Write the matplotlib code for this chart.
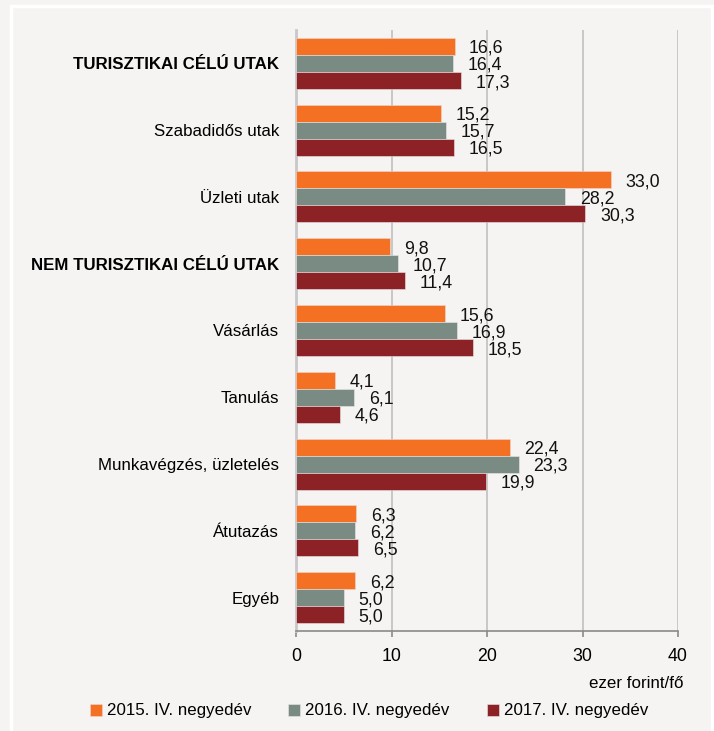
import numpy as np
import matplotlib
matplotlib.use('Agg')
import matplotlib.pyplot as plt
from matplotlib.patches import Rectangle

plt.rcParams['font.family'] = ['Liberation Sans Narrow', 'Liberation Sans', 'DejaVu Sans']

# — DATA —
categories = ['TURISZTIKAI CÉLÚ UTAK', 'Szabadidős utak', 'Üzleti utak',
              'NEM TURISZTIKAI CÉLÚ UTAK', 'Vásárlás', 'Tanulás',
              'Munkavégzés, üzletelés', 'Átutazás', 'Egyéb']
bold_cats = ['TURISZTIKAI CÉLÚ UTAK', 'NEM TURISZTIKAI CÉLÚ UTAK']
series_names = ['2015. IV. negyedév', '2016. IV. negyedév', '2017. IV. negyedév']
v2015 = [16.6, 15.2, 33.0, 9.8, 15.6, 4.1, 22.4, 6.3, 6.2]
v2016 = [16.4, 15.7, 28.2, 10.7, 16.9, 6.1, 23.3, 6.2, 5.0]
v2017 = [17.3, 16.5, 30.3, 11.4, 18.5, 4.6, 19.9, 6.5, 5.0]
colors = ['#F47022', '#7A8B83', '#8C2226']
BG = '#F5F4F2'
FS = 12.2

fig = plt.figure(figsize=(7.14, 7.31), dpi=100, facecolor=BG)
ax = fig.add_axes([296/714, 1 - 631/731, (678 - 296)/714, (631 - 30)/731])
ax.set_facecolor(BG)

# white frame around the chart area
fig.patches.append(Rectangle((11.5/714, -0.05), 700/714, 1.05 - 6/731,
                             transform=fig.transFigure, fill=False,
                             edgecolor='white', lw=2.5))

n = len(categories)
y = np.arange(n)
bh = 0.255
for i, (vals, col, name) in enumerate(zip([v2015, v2016, v2017], colors, series_names)):
    pos = y + (i - 1) * bh
    ax.barh(pos, vals, height=bh, color=col, edgecolor='#f0d8d0' if i == 0 else '#e8e8e8',
            lw=0.4, label=name, zorder=3)
    for p, v in zip(pos, vals):
        ax.annotate(f'{v:.1f}'.replace('.', ','), (v, p), xytext=(10.5, -1.5),
                    textcoords='offset points', va='center', ha='left',
                    fontsize=FS + 0.6, color='#111111')

ax.set_ylim(n - 0.5, -0.5)
ax.set_xlim(0, 40)
ax.set_xticks([0, 10, 20, 30, 40])
ax.tick_params(axis='x', labelsize=FS + 0.6, length=4, width=1.2, color='#8a8a8a', pad=8)
ax.set_yticks(y)
ax.set_yticklabels(categories, fontsize=FS)
for lab in ax.get_yticklabels():
    if lab.get_text() in bold_cats:
        lab.set_fontweight('bold')
        lab.set_fontsize(12.2)
ax.tick_params(axis='y', length=0, pad=12)

ax.grid(axis='x', color='#c4c4c4', lw=1.3, zorder=0)
for s in ['top', 'right']:
    ax.spines[s].set_visible(False)
ax.spines['left'].set_color('#c8c8c8')
ax.spines['left'].set_linewidth(2)
ax.spines['bottom'].set_color('#8a8a8a')
ax.spines['bottom'].set_linewidth(1.2)

fig.text(683/714, 1 - 684/731, 'ezer forint/fő', ha='right', va='center', fontsize=FS)

fig.legend(loc='center', bbox_to_anchor=(369/714, 1 - 711/731), ncol=3, frameon=False,
           fontsize=FS, handlelength=0.7, handleheight=0.7, handletextpad=0.3,
           columnspacing=2.2)

fig.savefig('out.png', dpi=100, facecolor=BG)
